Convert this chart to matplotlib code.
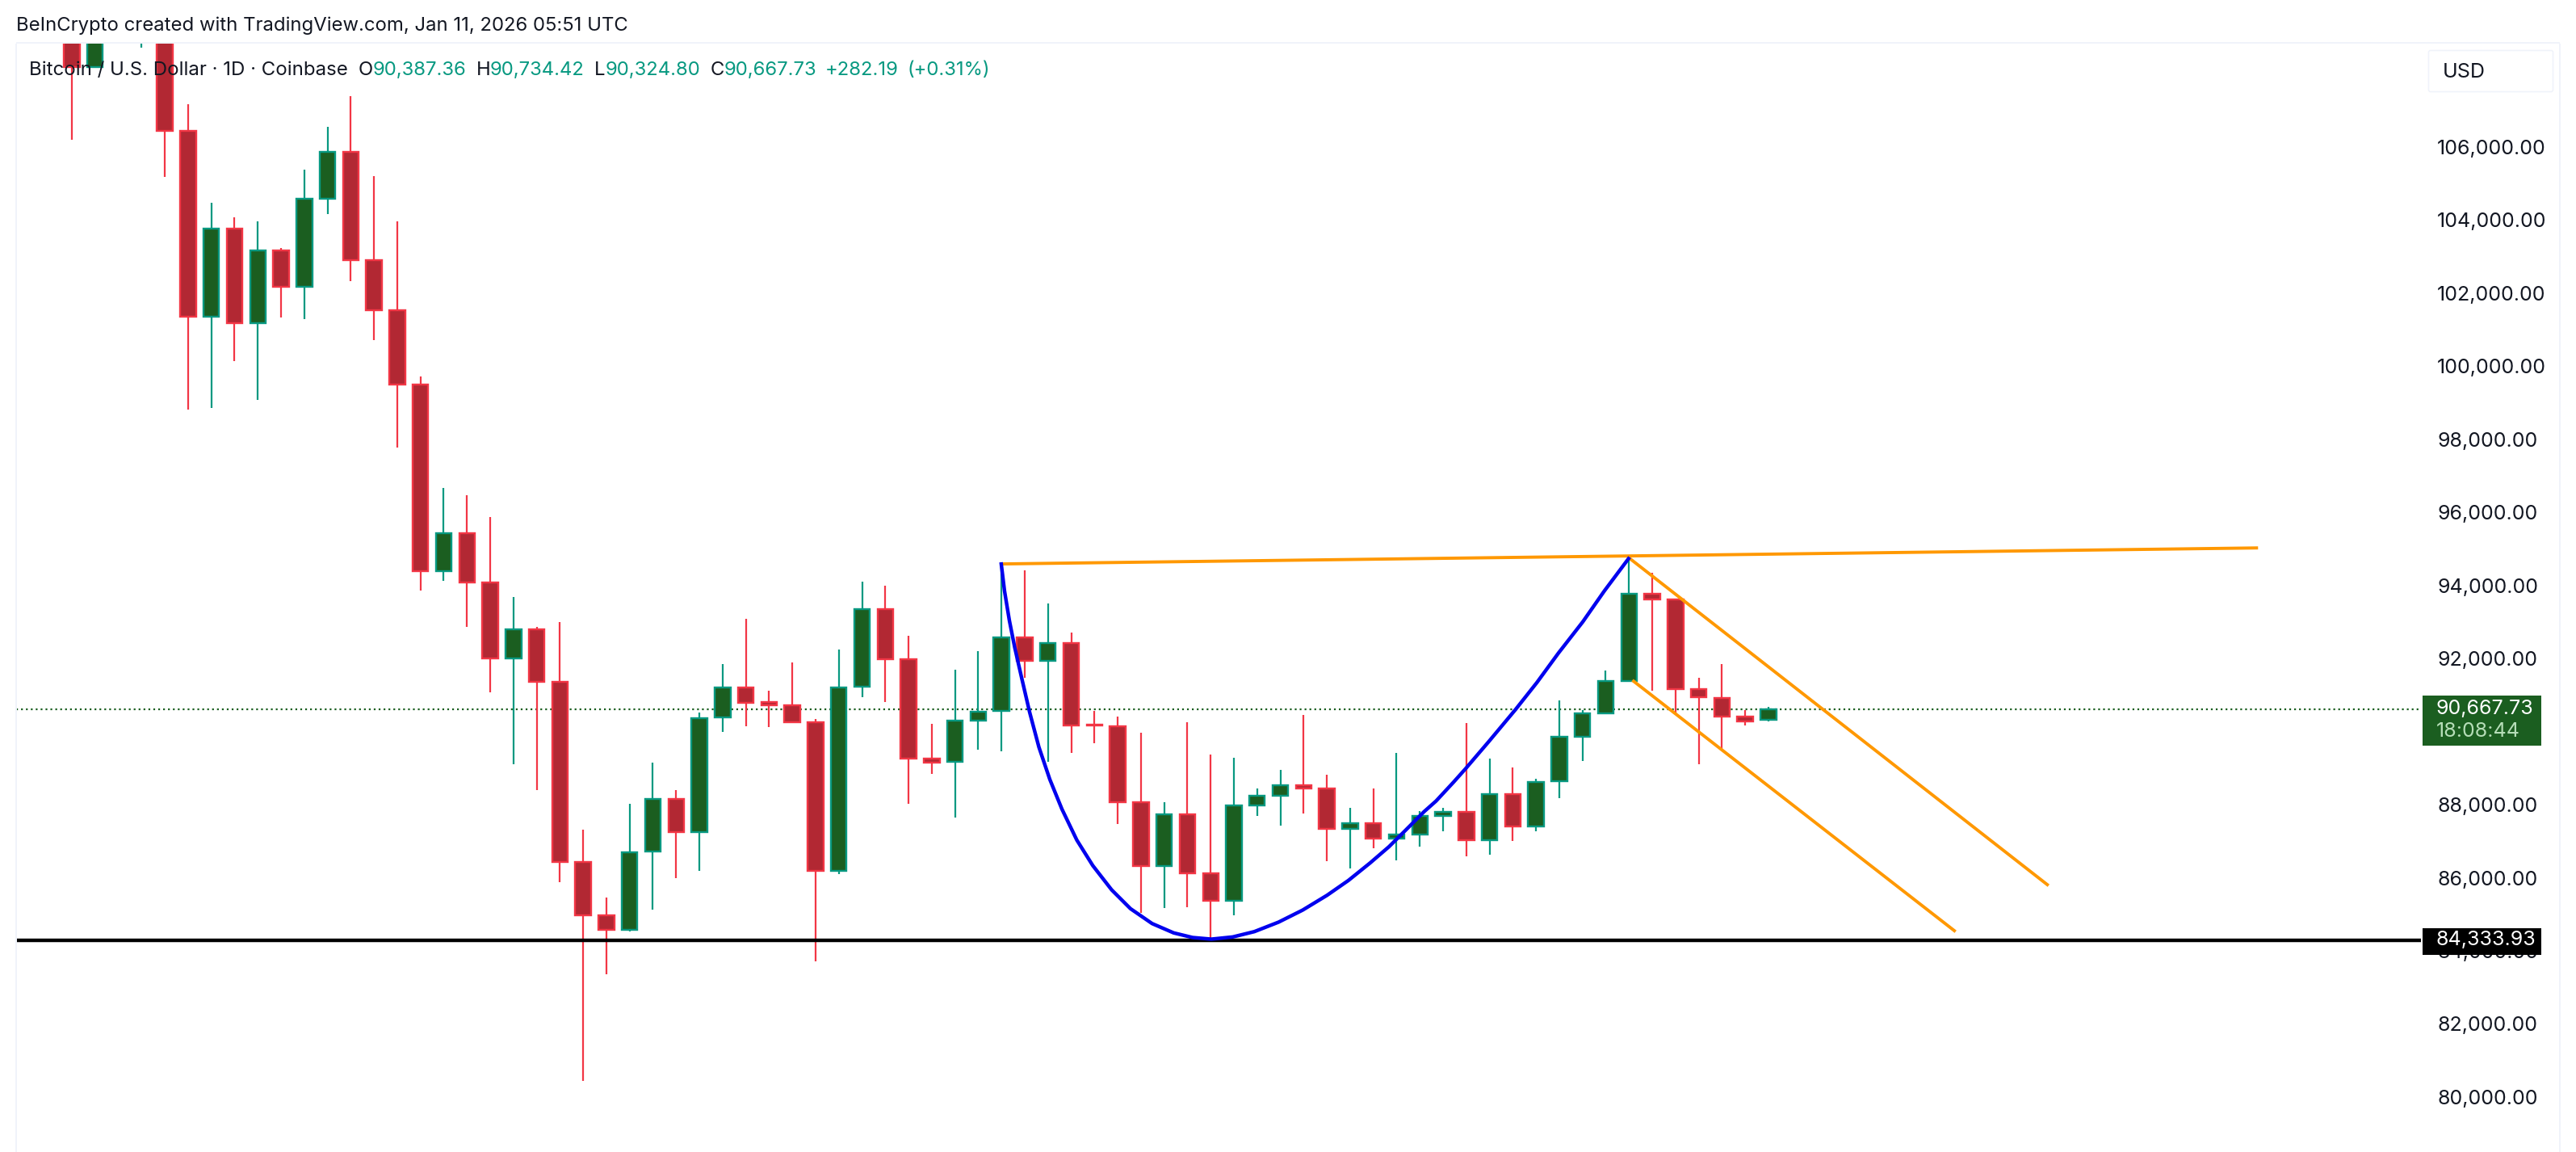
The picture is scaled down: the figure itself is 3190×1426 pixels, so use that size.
"""
BTC/USD daily candles, TradingView style screenshot
"""

import matplotlib
matplotlib.use('Agg')
import matplotlib.pyplot as plt
import matplotlib.transforms as mtrans
import numpy as np
from matplotlib.patches import FancyBboxPatch, Rectangle

W, H = 3190, 1426
plt.rcParams['font.family'] = ['Inter', 'DejaVu Sans']

# OHLC (first candles run off the top of the chart)
opens = [109500, 108244, 109500, 110000, 109500, 106500, 101417, 103824, 101243, 103232,
         102238, 104637, 105924, 102964, 101598, 99562, 94457, 95495, 94139, 92064,
         92857, 91429, 86496, 85031, 84640, 86768, 88220, 87297, 90438, 91267,
         90864, 90785, 90320, 86239, 91275, 93414, 92040, 89309, 89222, 90359,
         90620, 92640, 92001, 92482, 90257, 90209, 88133, 86381, 87802, 86168,
         85418, 88039, 88291, 88599, 88504, 87384, 87557, 87131, 87249, 87754,
         87849, 87076, 88354, 87454, 88709, 89917, 90564, 91448, 93832, 93674,
         91219, 90983, 90478, 90387.36]
closes = [108244, 110000, 109200, 110600, 106500, 101417, 103824, 101243, 103232, 102238,
          104637, 105924, 102964, 101598, 99562, 94457, 95495, 94139, 92064, 92857,
          91429, 86496, 85031, 84640, 86752, 88220, 87297, 90430, 91267, 90848,
          90777, 90320, 86239, 91267, 93414, 92040, 89309, 89215, 90359, 90604,
          92640, 92001, 92482, 90233, 90225, 88133, 86381, 87802, 86168, 85418,
          88039, 88291, 88599, 88504, 87384, 87557, 87131, 87249, 87754, 87849,
          87076, 88354, 87454, 88686, 89917, 90564, 91440, 93832, 93674, 91219,
          90990, 90478, 90343, 90667.73]
highs = [110000, 110500, 110000, 110800, 110000, 107234, 104519, 104140, 104014, 103296,
         105427, 106618, 107439, 105269, 104014, 99783, 96716, 96520, 95922, 93736,
         92918, 93053, 87363, 85507, 88071, 89207, 88449, 90588, 91898, 93137,
         91172, 91946, 90391, 92301, 94156, 94045, 92672, 90264, 91748, 92253,
         94629, 94463, 93556, 92759, 90612, 90462, 90020, 88117, 90312, 89428,
         89333, 88496, 89001, 90509, 88875, 87960, 88496, 89467, 87881, 87960,
         90288, 89317, 89072, 88765, 90904, 90643, 91725, 94811, 94400, 93674,
         91535, 91898, 90643, 90734.42]
lows = [106247, 108244, 109200, 108781, 105245, 98867, 98915, 100194, 99136, 101385,
        101346, 104219, 102380, 100770, 97834, 93919, 94188, 92931, 91123, 89170,
        88462, 85946, 80500, 83419, 84591, 85181, 86050, 86247, 90043, 90201,
        90178, 90320, 83776, 86160, 90991, 90872, 88078, 88891, 87699, 89554,
        89522, 91535, 89230, 89467, 89736, 87525, 85094, 85236, 85252, 84368,
        85039, 87746, 87486, 87817, 86515, 86318, 86870, 86539, 86910, 87328,
        86649, 86689, 87068, 87328, 88236, 89254, 90564, 91448, 91172, 90549,
        89167, 89562, 90225, 90324.80]

# drawings on the chart (bar index, price)
resistance_x = [40.0, 94.0]
resistance_y = [94645, 95083]
channel_top_x = [67.0, 85.0]
channel_top_y = [94811, 85867]
channel_low_x = [67.2, 81.0]
channel_low_y = [91435, 84607]
cup_x = [39.99, 40.13, 40.34, 40.57, 40.86, 41.21, 41.61, 42.08, 42.6, 43.24, 43.93,
         44.74, 45.55, 46.48, 47.41, 48.22, 49.03, 49.95, 50.88, 51.92, 52.96, 54.01,
         54.93, 55.86, 56.67, 57.37, 58.18, 58.7, 59.45, 59.97, 60.96, 62.12, 63.04,
         63.97, 65.01, 65.94, 66.98]
cup_y = [94642, 93906, 93095, 92358, 91547, 90589, 89632, 88747, 87936, 87089, 86388,
         85725, 85210, 84803, 84547, 84421, 84376, 84436, 84582, 84841, 85172, 85577,
         85984, 86461, 86904, 87346, 87863, 88157, 88672, 89042, 89778, 90662, 91401,
         92210, 93059, 93906, 94790]

support = 84333.93
last_price = 90667.73
# 90,000 sits behind the last price label in the screenshot
price_ticks = [80000, 82000, 84000, 86000, 88000, 92000, 94000,
               96000, 98000, 100000, 102000, 104000, 106000]

RED_BODY, RED_EDGE = '#B22833', '#F23645'
GREEN_BODY, GREEN_EDGE = '#1B5E20', '#089981'
TEXT = '#131722'
ORANGE = '#FF9800'


def fx(p):
    return p / W


def fy(p):
    return 1 - p / H


fig = plt.figure(figsize=(W / 200, H / 200), dpi=200, facecolor='white')

# chart pane, pixel box of the screenshot
ax = fig.add_axes([fx(20), 0, (2998 - 20) / W, (H - 54) / H])
ax.set_xlim((20 - 89) / 28.78, (2998 - 89) / 28.78)
ax.set_ylim(106000 - (1426 - 184.5) * 22.11, 106000 + (184.5 - 54) * 22.11)

idx = np.arange(len(opens))
o, c, h, l = map(np.array, (opens, closes, highs, lows))
up = c >= o

# wicks
ax.vlines(idx[up], l[up], h[up], color=GREEN_EDGE, lw=0.8, zorder=2)
ax.vlines(idx[~up], l[~up], h[~up], color=RED_EDGE, lw=0.8, zorder=2)

# bodies
ax.bar(idx[up], np.abs(c - o)[up], bottom=np.minimum(o, c)[up], width=0.675,
       color=GREEN_BODY, edgecolor=GREEN_EDGE, linewidth=0.85, zorder=3)
ax.bar(idx[~up], np.abs(c - o)[~up], bottom=np.minimum(o, c)[~up], width=0.675,
       color=RED_BODY, edgecolor=RED_EDGE, linewidth=0.85, zorder=3)

# last price + support
ax.axhline(last_price, color=GREEN_BODY, lw=0.8, linestyle=(0, (1, 1.73)), zorder=1)
ax.axhline(support, color='black', lw=1.6, zorder=4)

# cup + channel
ax.plot(resistance_x, resistance_y, color=ORANGE, lw=1.4, zorder=5)
ax.plot(channel_top_x, channel_top_y, color=ORANGE, lw=1.4, zorder=5)
ax.plot(channel_low_x, channel_low_y, color=ORANGE, lw=1.4, zorder=5)
ax.plot(cup_x, cup_y, color='#0000EE', lw=1.6, solid_joinstyle='round', zorder=6)

# price scale
ax.yaxis.tick_right()
ax.set_yticks(price_ticks)
ax.set_yticklabels([f'{t:,.2f}' for t in price_ticks], fontsize=9, color=TEXT)
ax.tick_params(axis='y', length=0, pad=7.2)
ax.set_xticks([])
nudge = mtrans.ScaledTranslation(0, 2.5 / 200, fig.dpi_scale_trans)
for lab in ax.get_yticklabels():
    lab.set_transform(lab.get_transform() + nudge)
for s in ax.spines.values():
    s.set_visible(False)

# frame lines
FRAME = '#F0F3FA'
fig.add_artist(Rectangle((fx(20), fy(54)), fx(3150), 2 / H, color=FRAME, lw=0))
fig.add_artist(Rectangle((fx(19), 0), 2 / W, fy(54), color=FRAME, lw=0))
fig.add_artist(Rectangle((fx(3169), 0), 2 / W, fy(54), color=FRAME, lw=0))

# USD box
fig.add_artist(FancyBboxPatch((fx(3010), fy(111)), 149 / W, 46 / H,
                              boxstyle='round,pad=0.0008', facecolor='white',
                              edgecolor=FRAME, linewidth=0.6,
                              transform=fig.transFigure, mutation_aspect=W / H))
fig.text(fx(3025), fy(89), 'USD', fontsize=9, color=TEXT, va='center')

# price labels
fig.add_artist(Rectangle((fx(3000), fy(923)), 147 / W, 62 / H, color=GREEN_BODY, lw=0, zorder=2))
fig.text(fx(3017), fy(878), '90,667.73', fontsize=9, color='white', va='center')
fig.text(fx(3017), fy(906), '18:08:44', fontsize=9, color='#B5DDB7', va='center')
fig.add_artist(Rectangle((fx(3000), fy(1182)), 147 / W, 33 / H, color='black', lw=0, zorder=2))
fig.text(fx(3017), fy(1164), '84,333.93', fontsize=9, color='white', va='center')

# header
fig.text(fx(20), fy(32), 'BeInCrypto created with TradingView.com, Jan 11, 2026 05:51 UTC',
         fontsize=8.6, color=TEXT, va='center')
fig.text(fx(36), fy(87), 'Bitcoin / U.S. Dollar · 1D · Coinbase', fontsize=8.65, color=TEXT, va='center')
header_parts = [(444, 'O', TEXT), (462, '90,387.36', GREEN_EDGE),
                (590, 'H', TEXT), (607, '90,734.42', GREEN_EDGE),
                (736, 'L', TEXT), (750, '90,324.80', GREEN_EDGE),
                (880, 'C', TEXT), (897, '90,667.73', GREEN_EDGE),
                (1022, '+282.19', GREEN_EDGE), (1123, '(+0.31%)', GREEN_EDGE)]
for px, s, col in header_parts:
    fig.text(fx(px), fy(87), s, fontsize=8.6, color=col, va='center')

plt.savefig('out.png', dpi=200, facecolor='white')
